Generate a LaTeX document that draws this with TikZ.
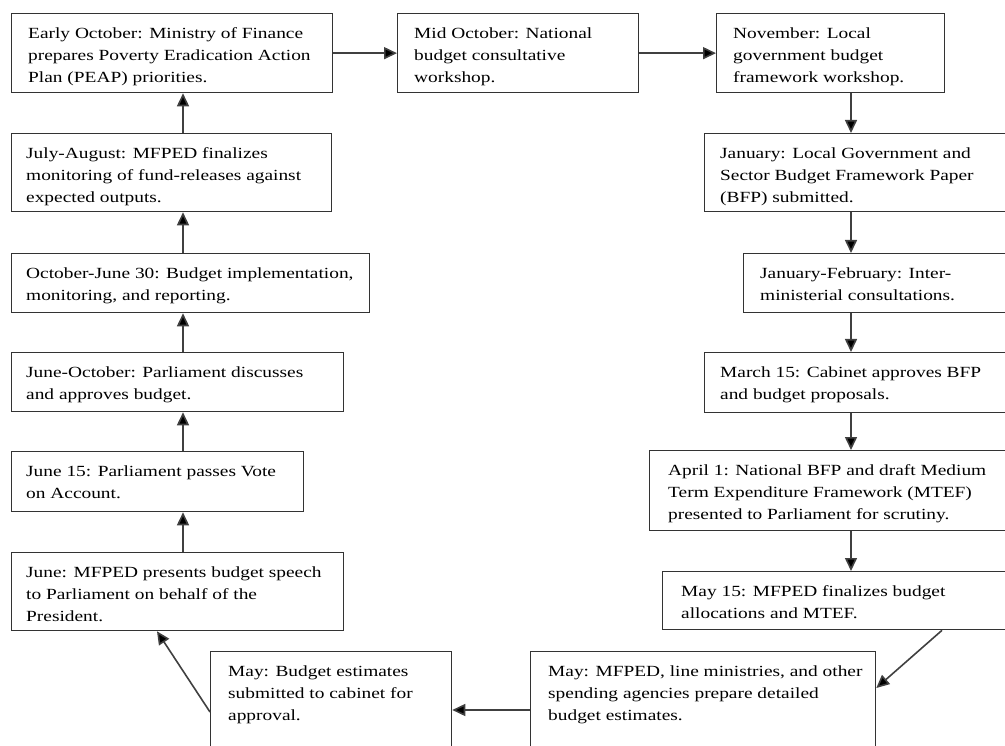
\documentclass[tikz,border=0pt]{standalone}
\usepackage{fontspec}
\setmainfont[FakeStretch=1.25]{Liberation Serif}
\usetikzlibrary{arrows.meta,calc}
\newcommand{\ft}{\rule{0pt}{12pt}}
\tikzset{
  box/.style={draw=black!80, line width=1.3pt, rectangle, inner sep=0pt, anchor=north west},
  txt/.style={anchor=north west, inner sep=0pt, align=left, text=black,
              font=\fontsize{15.5}{22}\selectfont},
  arr/.style={draw=black!75, line width=1.6pt, -{Triangle[length=13pt,width=12pt,fill=black]}}
}
\begin{document}
\begin{tikzpicture}[x=1pt,y=-1pt]
\useasboundingbox (0,0) rectangle (1005,746);
\fill[white] (0,0) rectangle (1005,746);
\clip (0,0) rectangle (1005,746);
\coordinate (lc) at (183,0);
\coordinate (rc) at (851,0);
% top row
\node[box, minimum width=321pt, minimum height=79pt] (b1) at (11,13) {};
\node[txt] (t1) at ([xshift=17pt,yshift=-13pt]b1.north west) {\ft Early October: Ministry of Finance\\prepares Poverty Eradication Action\\Plan (PEAP) priorities.};
\node[box, minimum width=241pt, minimum height=79pt] (b2) at (397,13) {};
\node[txt] (t2) at ([xshift=17pt,yshift=-13pt]b2.north west) {\ft Mid October: National\\budget consultative\\workshop.};
\node[box, minimum width=228pt, minimum height=79pt] (b3) at (716,13) {};
\node[txt] (t3) at ([xshift=17pt,yshift=-13pt]b3.north west) {\ft November: Local\\government budget\\framework workshop.};
% right column
\node[box, minimum width=320pt, minimum height=78pt] (b4) at (704,133) {};
\node[txt] (t4) at ([xshift=16pt,yshift=-13pt]b4.north west) {\ft January: Local Government and\\Sector Budget Framework Paper\\(BFP) submitted.};
\node[box, minimum width=280pt, minimum height=59pt] (b5) at (743,253) {};
\node[txt] (t5) at ([xshift=17pt,yshift=-13pt]b5.north west) {\ft January-February: Inter-\\ministerial consultations.};
\node[box, minimum width=320pt, minimum height=60pt] (b6) at (704,352) {};
\node[txt] (t6) at ([xshift=16pt,yshift=-13pt]b6.north west) {\ft March 15: Cabinet approves BFP\\and budget proposals.};
\node[box, minimum width=375pt, minimum height=80pt] (b7) at (649,450) {};
\node[txt] (t7) at ([xshift=19pt,yshift=-13pt]b7.north west) {\ft April 1: National BFP and draft Medium\\Term Expenditure Framework (MTEF)\\presented to Parliament for scrutiny.};
\node[box, minimum width=360pt, minimum height=58pt] (b8) at (662,571) {};
\node[txt] (t8) at ([xshift=19pt,yshift=-13pt]b8.north west) {\ft May 15: MFPED finalizes budget\\allocations and MTEF.};
% bottom row
\node[box, minimum width=345pt, minimum height=130pt] (b9) at (530,651) {};
\node[txt] (t9) at ([xshift=18pt,yshift=-13pt]b9.north west) {\ft May: MFPED, line ministries, and other\\spending agencies prepare detailed\\budget estimates.};
\node[box, minimum width=241pt, minimum height=130pt] (b10) at (210,651) {};
\node[txt] (t10) at ([xshift=18pt,yshift=-13pt]b10.north west) {\ft May: Budget estimates\\submitted to cabinet for\\approval.};
% left column
\node[box, minimum width=332pt, minimum height=78pt] (b11) at (11,552) {};
\node[txt] (t11) at ([xshift=15pt,yshift=-13pt]b11.north west) {\ft June: MFPED presents budget speech\\to Parliament on behalf of the\\President.};
\node[box, minimum width=292pt, minimum height=60pt] (b12) at (11,451) {};
\node[txt] (t12) at ([xshift=15pt,yshift=-13pt]b12.north west) {\ft June 15: Parliament passes Vote\\on Account.};
\node[box, minimum width=332pt, minimum height=59pt] (b13) at (11,352) {};
\node[txt] (t13) at ([xshift=15pt,yshift=-13pt]b13.north west) {\ft June-October: Parliament discusses\\and approves budget.};
\node[box, minimum width=358pt, minimum height=59pt] (b14) at (11,253) {};
\node[txt] (t14) at ([xshift=15pt,yshift=-13pt]b14.north west) {\ft October-June 30: Budget implementation,\\monitoring, and reporting.};
\node[box, minimum width=320pt, minimum height=78pt] (b15) at (11,133) {};
\node[txt] (t15) at ([xshift=15pt,yshift=-13pt]b15.north west) {\ft July-August: MFPED finalizes\\monitoring of fund-releases against\\expected outputs.};
% connectors
\draw[arr] (b1.east) -- (b2.west);
\draw[arr] (b2.east) -- (b3.west);
\draw[arr] (b3.south -| rc) -- (b4.north -| rc);
\draw[arr] (b4.south -| rc) -- (b5.north -| rc);
\draw[arr] (b5.south -| rc) -- (b6.north -| rc);
\draw[arr] (b6.south -| rc) -- (b7.north -| rc);
\draw[arr] (b7.south -| rc) -- (b8.north -| rc);
\draw[arr] ([xshift=280pt]b8.south west) -- ([yshift=-37pt]b9.north east);
\draw[arr] ([yshift=-59pt]b9.north west) -- ([yshift=-59pt]b10.north east);
\draw[arr] ([yshift=-61pt]b10.north west) -- ([xshift=146pt]b11.south west);
\draw[arr] (b11.north -| lc) -- (b12.south -| lc);
\draw[arr] (b12.north -| lc) -- (b13.south -| lc);
\draw[arr] (b13.north -| lc) -- (b14.south -| lc);
\draw[arr] (b14.north -| lc) -- (b15.south -| lc);
\draw[arr] (b15.north -| lc) -- (b1.south -| lc);
\end{tikzpicture}
\end{document}
